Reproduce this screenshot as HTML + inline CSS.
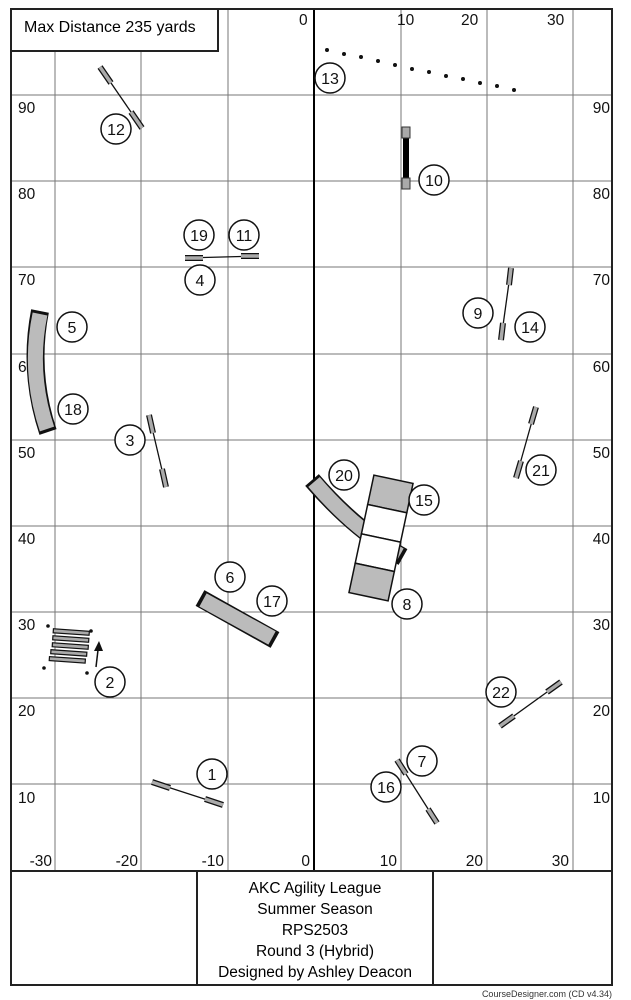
<!DOCTYPE html><html><head><style>body{margin:0;background:#fff}svg{display:block}text{font-family:"Liberation Sans",sans-serif}</style></head><body>
<svg width="631" height="1000" viewBox="0 0 631 1000" xmlns="http://www.w3.org/2000/svg">
<g stroke="#777" stroke-width="1">
<line x1="55" y1="9" x2="55" y2="871"/><line x1="141" y1="9" x2="141" y2="871"/><line x1="228" y1="9" x2="228" y2="871"/><line x1="401" y1="9" x2="401" y2="871"/><line x1="487" y1="9" x2="487" y2="871"/><line x1="573" y1="9" x2="573" y2="871"/>
<line x1="11" y1="95" x2="612" y2="95"/><line x1="11" y1="181" x2="612" y2="181"/><line x1="11" y1="267" x2="612" y2="267"/><line x1="11" y1="354" x2="612" y2="354"/><line x1="11" y1="440" x2="612" y2="440"/><line x1="11" y1="526" x2="612" y2="526"/><line x1="11" y1="612" x2="612" y2="612"/><line x1="11" y1="698" x2="612" y2="698"/><line x1="11" y1="784" x2="612" y2="784"/>
</g>
<line x1="314" y1="9" x2="314" y2="871" stroke="#000" stroke-width="2"/>
<rect x="11" y="9" width="601" height="976" fill="none" stroke="#222" stroke-width="2"/>
<line x1="11" y1="871" x2="612" y2="871" stroke="#222" stroke-width="2"/>
<g font-size="15.5" fill="#111">
<text x="299" y="25">0</text><text x="397" y="25">10</text><text x="461" y="25">20</text><text x="547" y="25">30</text>
<text x="18" y="113">90</text><text x="18" y="199">80</text><text x="18" y="285">70</text><text x="18" y="372">6</text><text x="18" y="458">50</text><text x="18" y="544">40</text><text x="18" y="630">30</text><text x="18" y="716">20</text><text x="18" y="803">10</text>
<g text-anchor="end"><text x="610" y="113">90</text><text x="610" y="199">80</text><text x="610" y="285">70</text><text x="610" y="372">60</text><text x="610" y="458">50</text><text x="610" y="544">40</text><text x="610" y="630">30</text><text x="610" y="716">20</text><text x="610" y="803">10</text>
<text x="52" y="866">-30</text><text x="138" y="866">-20</text><text x="224" y="866">-10</text><text x="310" y="866">0</text><text x="397" y="866">10</text><text x="483" y="866">20</text><text x="569" y="866">30</text></g>
</g>
<rect x="11" y="9" width="207" height="42" fill="#fff" stroke="#222" stroke-width="2"/>
<text x="24" y="32" font-size="16">Max Distance 235 yards</text>
<rect x="197" y="871" width="236" height="114" fill="#fff" stroke="#222" stroke-width="2"/>
<g font-size="15.5" text-anchor="middle"><text x="315" y="893">AKC Agility League</text><text x="315" y="914">Summer Season</text><text x="315" y="935">RPS2503</text><text x="315" y="956">Round 3 (Hybrid)</text><text x="315" y="977">Designed by Ashley Deacon</text></g>
<text x="612" y="997" font-size="9" text-anchor="end" fill="#333">CourseDesigner.com (CD v4.34)</text>
<g fill="#111"><circle cx="327" cy="50" r="2"/><circle cx="344" cy="54" r="2"/><circle cx="361" cy="57" r="2"/><circle cx="378" cy="61" r="2"/><circle cx="395" cy="65" r="2"/><circle cx="412" cy="69" r="2"/><circle cx="429" cy="72" r="2"/><circle cx="446" cy="76" r="2"/><circle cx="463" cy="79" r="2"/><circle cx="480" cy="83" r="2"/><circle cx="497" cy="86" r="2"/><circle cx="514" cy="90" r="2"/></g>
<g stroke-linecap="butt">
<line x1="100" y1="67" x2="142" y2="128" stroke="#111" stroke-width="1.3"/>
<line x1="100" y1="67" x2="111" y2="83" stroke="#111" stroke-width="6"/><line x1="100" y1="67" x2="111" y2="83" stroke="#aaa" stroke-width="3.5"/>
<line x1="131" y1="112" x2="142" y2="128" stroke="#111" stroke-width="6"/><line x1="131" y1="112" x2="142" y2="128" stroke="#aaa" stroke-width="3.5"/>
<line x1="152" y1="782" x2="223" y2="805" stroke="#111" stroke-width="1.3"/>
<line x1="152" y1="782" x2="170" y2="788" stroke="#111" stroke-width="6"/><line x1="152" y1="782" x2="170" y2="788" stroke="#aaa" stroke-width="3.5"/>
<line x1="205" y1="799" x2="223" y2="805" stroke="#111" stroke-width="6"/><line x1="205" y1="799" x2="223" y2="805" stroke="#aaa" stroke-width="3.5"/>
<line x1="149" y1="415" x2="166" y2="487" stroke="#111" stroke-width="1.3"/>
<line x1="149" y1="415" x2="153" y2="433" stroke="#111" stroke-width="6"/><line x1="149" y1="415" x2="153" y2="433" stroke="#aaa" stroke-width="3.5"/>
<line x1="162" y1="469" x2="166" y2="487" stroke="#111" stroke-width="6"/><line x1="162" y1="469" x2="166" y2="487" stroke="#aaa" stroke-width="3.5"/>
<line x1="185" y1="258" x2="259" y2="256" stroke="#111" stroke-width="1.3"/>
<line x1="185" y1="258" x2="203" y2="258" stroke="#111" stroke-width="6"/><line x1="185" y1="258" x2="203" y2="258" stroke="#aaa" stroke-width="3.5"/>
<line x1="241" y1="256" x2="259" y2="256" stroke="#111" stroke-width="6"/><line x1="241" y1="256" x2="259" y2="256" stroke="#aaa" stroke-width="3.5"/>
<line x1="511" y1="268" x2="501" y2="340" stroke="#111" stroke-width="1.3"/>
<line x1="511" y1="268" x2="509" y2="285" stroke="#111" stroke-width="6"/><line x1="511" y1="268" x2="509" y2="285" stroke="#aaa" stroke-width="3.5"/>
<line x1="503" y1="323" x2="501" y2="340" stroke="#111" stroke-width="6"/><line x1="503" y1="323" x2="501" y2="340" stroke="#aaa" stroke-width="3.5"/>
<line x1="536" y1="407" x2="516" y2="478" stroke="#111" stroke-width="1.3"/>
<line x1="536" y1="407" x2="531" y2="424" stroke="#111" stroke-width="6"/><line x1="536" y1="407" x2="531" y2="424" stroke="#aaa" stroke-width="3.5"/>
<line x1="521" y1="461" x2="516" y2="478" stroke="#111" stroke-width="6"/><line x1="521" y1="461" x2="516" y2="478" stroke="#aaa" stroke-width="3.5"/>
<line x1="500" y1="726" x2="561" y2="682" stroke="#111" stroke-width="1.3"/>
<line x1="500" y1="726" x2="514" y2="716" stroke="#111" stroke-width="6"/><line x1="500" y1="726" x2="514" y2="716" stroke="#aaa" stroke-width="3.5"/>
<line x1="547" y1="692" x2="561" y2="682" stroke="#111" stroke-width="6"/><line x1="547" y1="692" x2="561" y2="682" stroke="#aaa" stroke-width="3.5"/>
<line x1="397" y1="760" x2="437" y2="823" stroke="#111" stroke-width="1.3"/>
<line x1="397" y1="760" x2="406" y2="774" stroke="#111" stroke-width="6"/><line x1="397" y1="760" x2="406" y2="774" stroke="#aaa" stroke-width="3.5"/>
<line x1="428" y1="809" x2="437" y2="823" stroke="#111" stroke-width="6"/><line x1="428" y1="809" x2="437" y2="823" stroke="#aaa" stroke-width="3.5"/>
</g>
<rect x="403" y="130" width="6" height="56" fill="#000"/>
<rect x="402" y="127" width="8" height="11" fill="#aaa" stroke="#333"/>
<rect x="402" y="178" width="8" height="11" fill="#aaa" stroke="#333"/>
<path d="M40 311 Q28 372 48 432" fill="none" stroke="#111" stroke-width="18"/>
<path d="M40 314 Q28 372 47 429" fill="none" stroke="#bbb" stroke-width="15"/>
<path d="M312 480 Q355 530 403 557" fill="none" stroke="#111" stroke-width="18"/>
<path d="M314 482 Q355 530 400 555" fill="none" stroke="#bbb" stroke-width="15"/>
<line x1="200" y1="598" x2="275" y2="640" stroke="#111" stroke-width="18"/>
<line x1="203" y1="600" x2="272" y2="638" stroke="#bbb" stroke-width="15"/>
<g transform="rotate(12 381 538)" stroke="#111" stroke-width="1.5">
<rect x="361" y="478" width="40" height="30" fill="#bbb"/><rect x="361" y="508" width="40" height="30" fill="#fff"/><rect x="361" y="538" width="40" height="30" fill="#fff"/><rect x="361" y="568" width="40" height="30" fill="#bbb"/>
</g>
<g transform="rotate(4 70 650)" fill="#aaa" stroke="#111" stroke-width="1.2">
<rect x="52" y="630" width="36" height="4"/><rect x="52" y="637" width="36" height="4"/><rect x="52" y="644" width="36" height="4"/><rect x="51" y="651" width="36" height="4"/><rect x="50" y="658" width="36" height="4"/>
</g>
<g fill="#111"><circle cx="48" cy="626" r="1.8"/><circle cx="91" cy="631" r="1.8"/><circle cx="44" cy="668" r="1.8"/><circle cx="87" cy="673" r="1.8"/></g>
<line x1="96" y1="667" x2="98" y2="650" stroke="#111" stroke-width="1.5"/><polygon points="99,641 94,651 103,651" fill="#111"/>
<g fill="#fff" stroke="#111" stroke-width="1.5">
<circle cx="330" cy="78" r="15"/><circle cx="116" cy="129" r="15"/><circle cx="434" cy="180" r="15"/><circle cx="199" cy="235" r="15"/><circle cx="244" cy="235" r="15"/><circle cx="200" cy="280" r="15"/><circle cx="72" cy="327" r="15"/><circle cx="73" cy="409" r="15"/><circle cx="130" cy="440" r="15"/><circle cx="478" cy="313" r="15"/><circle cx="530" cy="327" r="15"/><circle cx="541" cy="470" r="15"/><circle cx="344" cy="475" r="15"/><circle cx="424" cy="500" r="15"/><circle cx="230" cy="577" r="15"/><circle cx="272" cy="601" r="15"/><circle cx="407" cy="604" r="15"/><circle cx="110" cy="682" r="15"/><circle cx="501" cy="692" r="15"/><circle cx="212" cy="774" r="15"/><circle cx="422" cy="761" r="15"/><circle cx="386" cy="787" r="15"/>
</g>
<g font-size="16" text-anchor="middle" fill="#111">
<text x="330" y="84">13</text><text x="116" y="135">12</text><text x="434" y="186">10</text><text x="199" y="241">19</text><text x="244" y="241">11</text><text x="200" y="286">4</text><text x="72" y="333">5</text><text x="73" y="415">18</text><text x="130" y="446">3</text><text x="478" y="319">9</text><text x="530" y="333">14</text><text x="541" y="476">21</text><text x="344" y="481">20</text><text x="424" y="506">15</text><text x="230" y="583">6</text><text x="272" y="607">17</text><text x="407" y="610">8</text><text x="110" y="688">2</text><text x="501" y="698">22</text><text x="212" y="780">1</text><text x="422" y="767">7</text><text x="386" y="793">16</text>
</g>
</svg>
</body></html>
